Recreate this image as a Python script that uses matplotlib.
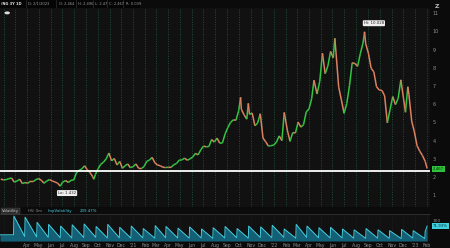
import numpy as np
import pandas as pd
import matplotlib
matplotlib.use("Agg")
import matplotlib.pyplot as plt
import matplotlib.dates as mdates
from matplotlib.collections import LineCollection
from matplotlib.patches import Circle

# /NG continuous, closes (roughly weekly)
price_dates = [
    "2020-01-24", "2020-01-31", "2020-02-07", "2020-02-14", "2020-02-21", "2020-02-28",
    "2020-03-06", "2020-03-13", "2020-03-20", "2020-03-27", "2020-04-03", "2020-04-09",
    "2020-04-17", "2020-04-24", "2020-05-01", "2020-05-08", "2020-05-15", "2020-05-22",
    "2020-05-29", "2020-06-05", "2020-06-12", "2020-06-19", "2020-06-26", "2020-07-02",
    "2020-07-10", "2020-07-17", "2020-07-24", "2020-07-31", "2020-08-07", "2020-08-14",
    "2020-08-21", "2020-08-28", "2020-09-04", "2020-09-11", "2020-09-18", "2020-09-21",
    "2020-09-25", "2020-10-02", "2020-10-09", "2020-10-16", "2020-10-23", "2020-10-30",
    "2020-11-06", "2020-11-13", "2020-11-20", "2020-11-27", "2020-12-04", "2020-12-11",
    "2020-12-18", "2020-12-24", "2020-12-31",
    "2021-01-08", "2021-01-15", "2021-01-22", "2021-01-29", "2021-02-05", "2021-02-12",
    "2021-02-19", "2021-02-26", "2021-03-05", "2021-03-12", "2021-03-19", "2021-03-26",
    "2021-04-02", "2021-04-09", "2021-04-16", "2021-04-23", "2021-04-30", "2021-05-07",
    "2021-05-14", "2021-05-21", "2021-05-28", "2021-06-04", "2021-06-11", "2021-06-18",
    "2021-06-25", "2021-07-02", "2021-07-09", "2021-07-16", "2021-07-23", "2021-07-30",
    "2021-08-06", "2021-08-13", "2021-08-20", "2021-08-27", "2021-09-03", "2021-09-10",
    "2021-09-17", "2021-09-24", "2021-10-01", "2021-10-06", "2021-10-08", "2021-10-15",
    "2021-10-22", "2021-10-26", "2021-10-29", "2021-11-05", "2021-11-12", "2021-11-19",
    "2021-11-26", "2021-12-03", "2021-12-10", "2021-12-17", "2021-12-23", "2021-12-31",
    "2022-01-07", "2022-01-14", "2022-01-21", "2022-01-27", "2022-02-04", "2022-02-11",
    "2022-02-18", "2022-02-25", "2022-03-04", "2022-03-11", "2022-03-18", "2022-03-25",
    "2022-04-01", "2022-04-08", "2022-04-14", "2022-04-22", "2022-04-29", "2022-05-06",
    "2022-05-13", "2022-05-20", "2022-05-27", "2022-06-03", "2022-06-07", "2022-06-10",
    "2022-06-17", "2022-06-24", "2022-07-01", "2022-07-08", "2022-07-15", "2022-07-22",
    "2022-07-29", "2022-08-05", "2022-08-12", "2022-08-19", "2022-08-23", "2022-08-26",
    "2022-09-02", "2022-09-09", "2022-09-16", "2022-09-23", "2022-09-30", "2022-10-07",
    "2022-10-14", "2022-10-21", "2022-10-28", "2022-11-04", "2022-11-11", "2022-11-18",
    "2022-11-25", "2022-12-02", "2022-12-07", "2022-12-13", "2022-12-16", "2022-12-23",
    "2022-12-30", "2023-01-06", "2023-01-13", "2023-01-20", "2023-01-27", "2023-02-01",
]
price_close = [
    1.89, 1.84, 1.86, 1.91, 1.95, 1.72,
    1.78, 1.88, 1.64, 1.70, 1.66, 1.76,
    1.75, 1.86, 1.92, 1.82, 1.66, 1.78,
    1.86, 1.79, 1.73, 1.67, 1.50, 1.72,
    1.81, 1.70, 1.82, 1.84, 2.24, 2.37,
    2.45, 2.62, 2.40, 2.25, 2.02, 1.88,
    2.14, 2.46, 2.70, 2.82, 3.00, 3.32,
    2.89, 3.02, 2.66, 2.86, 2.48, 2.62,
    2.72, 2.52, 2.56,
    2.72, 2.48, 2.46, 2.58, 2.86, 2.93,
    3.08, 2.78, 2.66, 2.62, 2.54, 2.52,
    2.54, 2.53, 2.68, 2.74, 2.93, 2.94,
    3.04, 2.92, 3.00, 3.10, 3.30, 3.22,
    3.50, 3.70, 3.66, 3.68, 4.06, 3.92,
    4.14, 3.86, 3.87, 4.38, 4.72, 5.00,
    5.14, 5.12, 5.64, 6.38, 5.72, 5.42,
    5.18, 6.05, 5.44, 5.52, 4.82, 4.96,
    5.48, 4.14, 3.94, 3.70, 3.72, 3.76,
    3.92, 4.26, 4.00, 5.55, 4.58, 3.96,
    4.44, 4.42, 5.02, 4.74, 4.88, 5.58,
    5.74, 6.30, 7.32, 6.56, 7.26, 8.80,
    7.68, 8.10, 8.90, 8.54, 9.62, 8.86,
    6.94, 6.24, 5.50, 6.04, 7.02, 8.28,
    8.24, 8.08, 8.78, 9.36, 9.98, 9.32,
    8.80, 7.98, 7.78, 6.96, 6.78, 6.76,
    6.46, 4.98, 5.70, 6.42, 5.98, 6.32,
    7.34, 6.30, 5.56, 6.96, 6.52, 5.08,
    4.48, 3.72, 3.42, 3.18, 2.86, 2.47,
]

# front-month implied volatility sawtooth: peak after each roll, trough before next
roll_dates = pd.date_range("2020-01-26", "2023-01-26", freq="MS") + pd.Timedelta(days=25)
vol_peaks = [
    120, 115, 90, 80, 72, 78, 82, 70, 80, 66, 72, 60,
    74, 70, 62, 68, 58, 64, 70, 60, 72, 68, 76, 58,
    80, 72, 64, 66, 58, 54, 60, 54, 50, 56, 50, 46,
    76,
]
vol_troughs = [
    22, 20, 18, 16, 15, 17, 18, 15, 16, 14, 15, 14,
    16, 15, 14, 15, 13, 15, 16, 14, 17, 16, 18, 14,
    18, 16, 15, 15, 14, 13, 14, 13, 12, 14, 12, 12,
]
vol_start = 30
vol_end = 72

month_ticks = pd.date_range("2020-04-01", "2023-02-01", freq="MS")
hline_level = 2.33
last_price = "2.467"

bg = "#111111"
up_col = "#33c443"
dn_col = "#dc8060"

fig = plt.figure(figsize=(4.5, 2.48), dpi=100, facecolor="#0b0b0b")
ax = fig.add_axes([0.0, 0.165, 0.956, 0.803], facecolor=bg)
axv = fig.add_axes([0.0, 0.028, 0.956, 0.109], facecolor=bg, sharex=ax)

t = mdates.date2num(pd.to_datetime(price_dates))
p = np.array(price_close)
pts = np.column_stack([t, p]).reshape(-1, 1, 2)
segs = np.concatenate([pts[:-1], pts[1:]], axis=1)
cols = [up_col if b >= a else dn_col for a, b in zip(p[:-1], p[1:])]
ax.add_collection(LineCollection(segs, colors=cols, linewidths=1.1, zorder=3))

ax.axhline(hline_level, color="white", lw=1.3, zorder=4)

xmin = mdates.date2num(pd.Timestamp("2020-01-22"))
xmax = mdates.date2num(pd.Timestamp("2023-02-09"))
ax.set_xlim(xmin, xmax)
ax.set_ylim(0.35, 11.29)

# month grid
grid_months = pd.date_range("2020-02-01", "2023-02-01", freq="MS")
for g in grid_months:
    ax.axvline(g, color="#21503a", lw=0.7, ls=(0, (1, 1.5)), zorder=1)
    axv.axvline(g, color="#262626", lw=0.5, ls=(0, (1, 1.5)), zorder=1)

ax.yaxis.tick_right()
ax.set_yticks(range(1, 12))
ax.tick_params(axis="y", length=0, pad=1.5, labelsize=3.5, labelcolor="#8c8c8c")
ax.tick_params(axis="x", length=0, labelbottom=False)
for s in ax.spines.values():
    s.set_visible(False)

# hi / lo bubbles
i_hi = int(np.argmax(p))
i_lo = int(np.argmin(p))
ax.text(t[i_hi] - 2, 10.45, "Hi: 10.028", fontsize=2.8, color="#222222", ha="left", va="center",
        bbox=dict(boxstyle="round,pad=0.25", fc="#eeeeee", ec="none"), zorder=5)
ax.text(t[i_lo] - 6, 1.12, "Lo: 1.432", fontsize=2.8, color="#222222", ha="left", va="center",
        bbox=dict(boxstyle="round,pad=0.25", fc="#eeeeee", ec="none"), zorder=5)

# last price tag
ax.text(1.006, hline_level + 0.1, last_price, transform=ax.get_yaxis_transform(), fontsize=2.8,
        color="#0b2a0b", ha="left", va="center", clip_on=False,
        bbox=dict(boxstyle="square,pad=0.3", fc="#2fc23c", ec="none"), zorder=6)

# volatility pane
vx, vy = [mdates.date2num(pd.Timestamp("2020-01-22"))], [vol_start]
for i, r in enumerate(roll_dates):
    vx.append(mdates.date2num(r))
    vy.append(vol_start if i == 0 else vol_troughs[i - 1])
    vx.append(mdates.date2num(r + pd.Timedelta(days=1)))
    vy.append(vol_peaks[i])
vx.append(mdates.date2num(pd.Timestamp("2023-02-01")))
vy.append(vol_end)
axv.fill_between(vx, 0, vy, color="#146a82", alpha=0.9, lw=0, zorder=2)
axv.plot(vx, vy, color="#43cfe2", lw=0.7, zorder=3)
axv.set_ylim(0, 130)
axv.yaxis.tick_right()
axv.set_yticks([100])
axv.tick_params(axis="y", length=0, pad=1.5, labelsize=3.2, labelcolor="#8c8c8c")
axv.text(1.006, vol_end, "71.93%", transform=axv.get_yaxis_transform(), fontsize=2.8,
         color="#0b2a30", ha="left", va="center", clip_on=False,
         bbox=dict(boxstyle="square,pad=0.3", fc="#3fd0e0", ec="none"), zorder=6)
for s in axv.spines.values():
    s.set_visible(False)
axv.spines["top"].set_visible(True)
axv.spines["top"].set_color("#3a3a3a")
axv.spines["top"].set_linewidth(0.5)

axv.set_xticks(mdates.date2num(month_ticks))
axv.set_xticklabels(["'" + d.strftime("%y") if d.month == 1 else d.strftime("%b") for d in month_ticks])
axv.tick_params(axis="x", length=0, pad=1.2, labelsize=3.3, labelcolor="#8c8c8c")

# pane label row
fig.text(0.004, 0.149, "Volatility", fontsize=2.8, color="#cfcfcf", va="center",
         bbox=dict(boxstyle="square,pad=0.25", fc="#2a2a2a", ec="#555555", lw=0.3))
fig.text(0.062, 0.149, "HV: 0m", fontsize=2.8, color="#8c8c8c", va="center")
fig.text(0.105, 0.149, "ImpVolatility", fontsize=2.8, color="#43cfe2", va="center")
fig.text(0.178, 0.149, "209.47%", fontsize=2.8, color="#43cfe2", va="center")

# header bar
hdr = fig.add_axes([0.0, 0.968, 0.31, 0.032], facecolor="#050505")
hdr.set_xticks([])
hdr.set_yticks([])
for s in hdr.spines.values():
    s.set_visible(False)
hdr_items = ["/NG 3Y 1D", "D: 2/1/2023", "O: 2.464", "H: 2.496", "L: 2.47", "C: 2.467", "R: 0.039"]
hdr_pos = [0.01, 0.2, 0.42, 0.56, 0.68, 0.78, 0.9]
for i, (txt, x) in enumerate(zip(hdr_items, hdr_pos)):
    hdr.text(x, 0.5, txt, fontsize=2.6, color="#e0e0e0" if i == 0 else "#9a9a9a",
             fontweight="bold" if i == 0 else "normal", va="center", transform=hdr.transAxes)
    if i > 0:
        hdr.axvline(x - 0.015, color="#3a3a3a", lw=0.4)

fig.add_artist(Circle((0.016, 0.948), 0.006, transform=fig.transFigure, fc="#dddddd", ec="none"))
fig.text(0.966, 0.975, "Z", fontsize=4.5, color="#bbbbbb", va="center", fontweight="bold")

fig.savefig("out.png", dpi=100, facecolor=fig.get_facecolor())
